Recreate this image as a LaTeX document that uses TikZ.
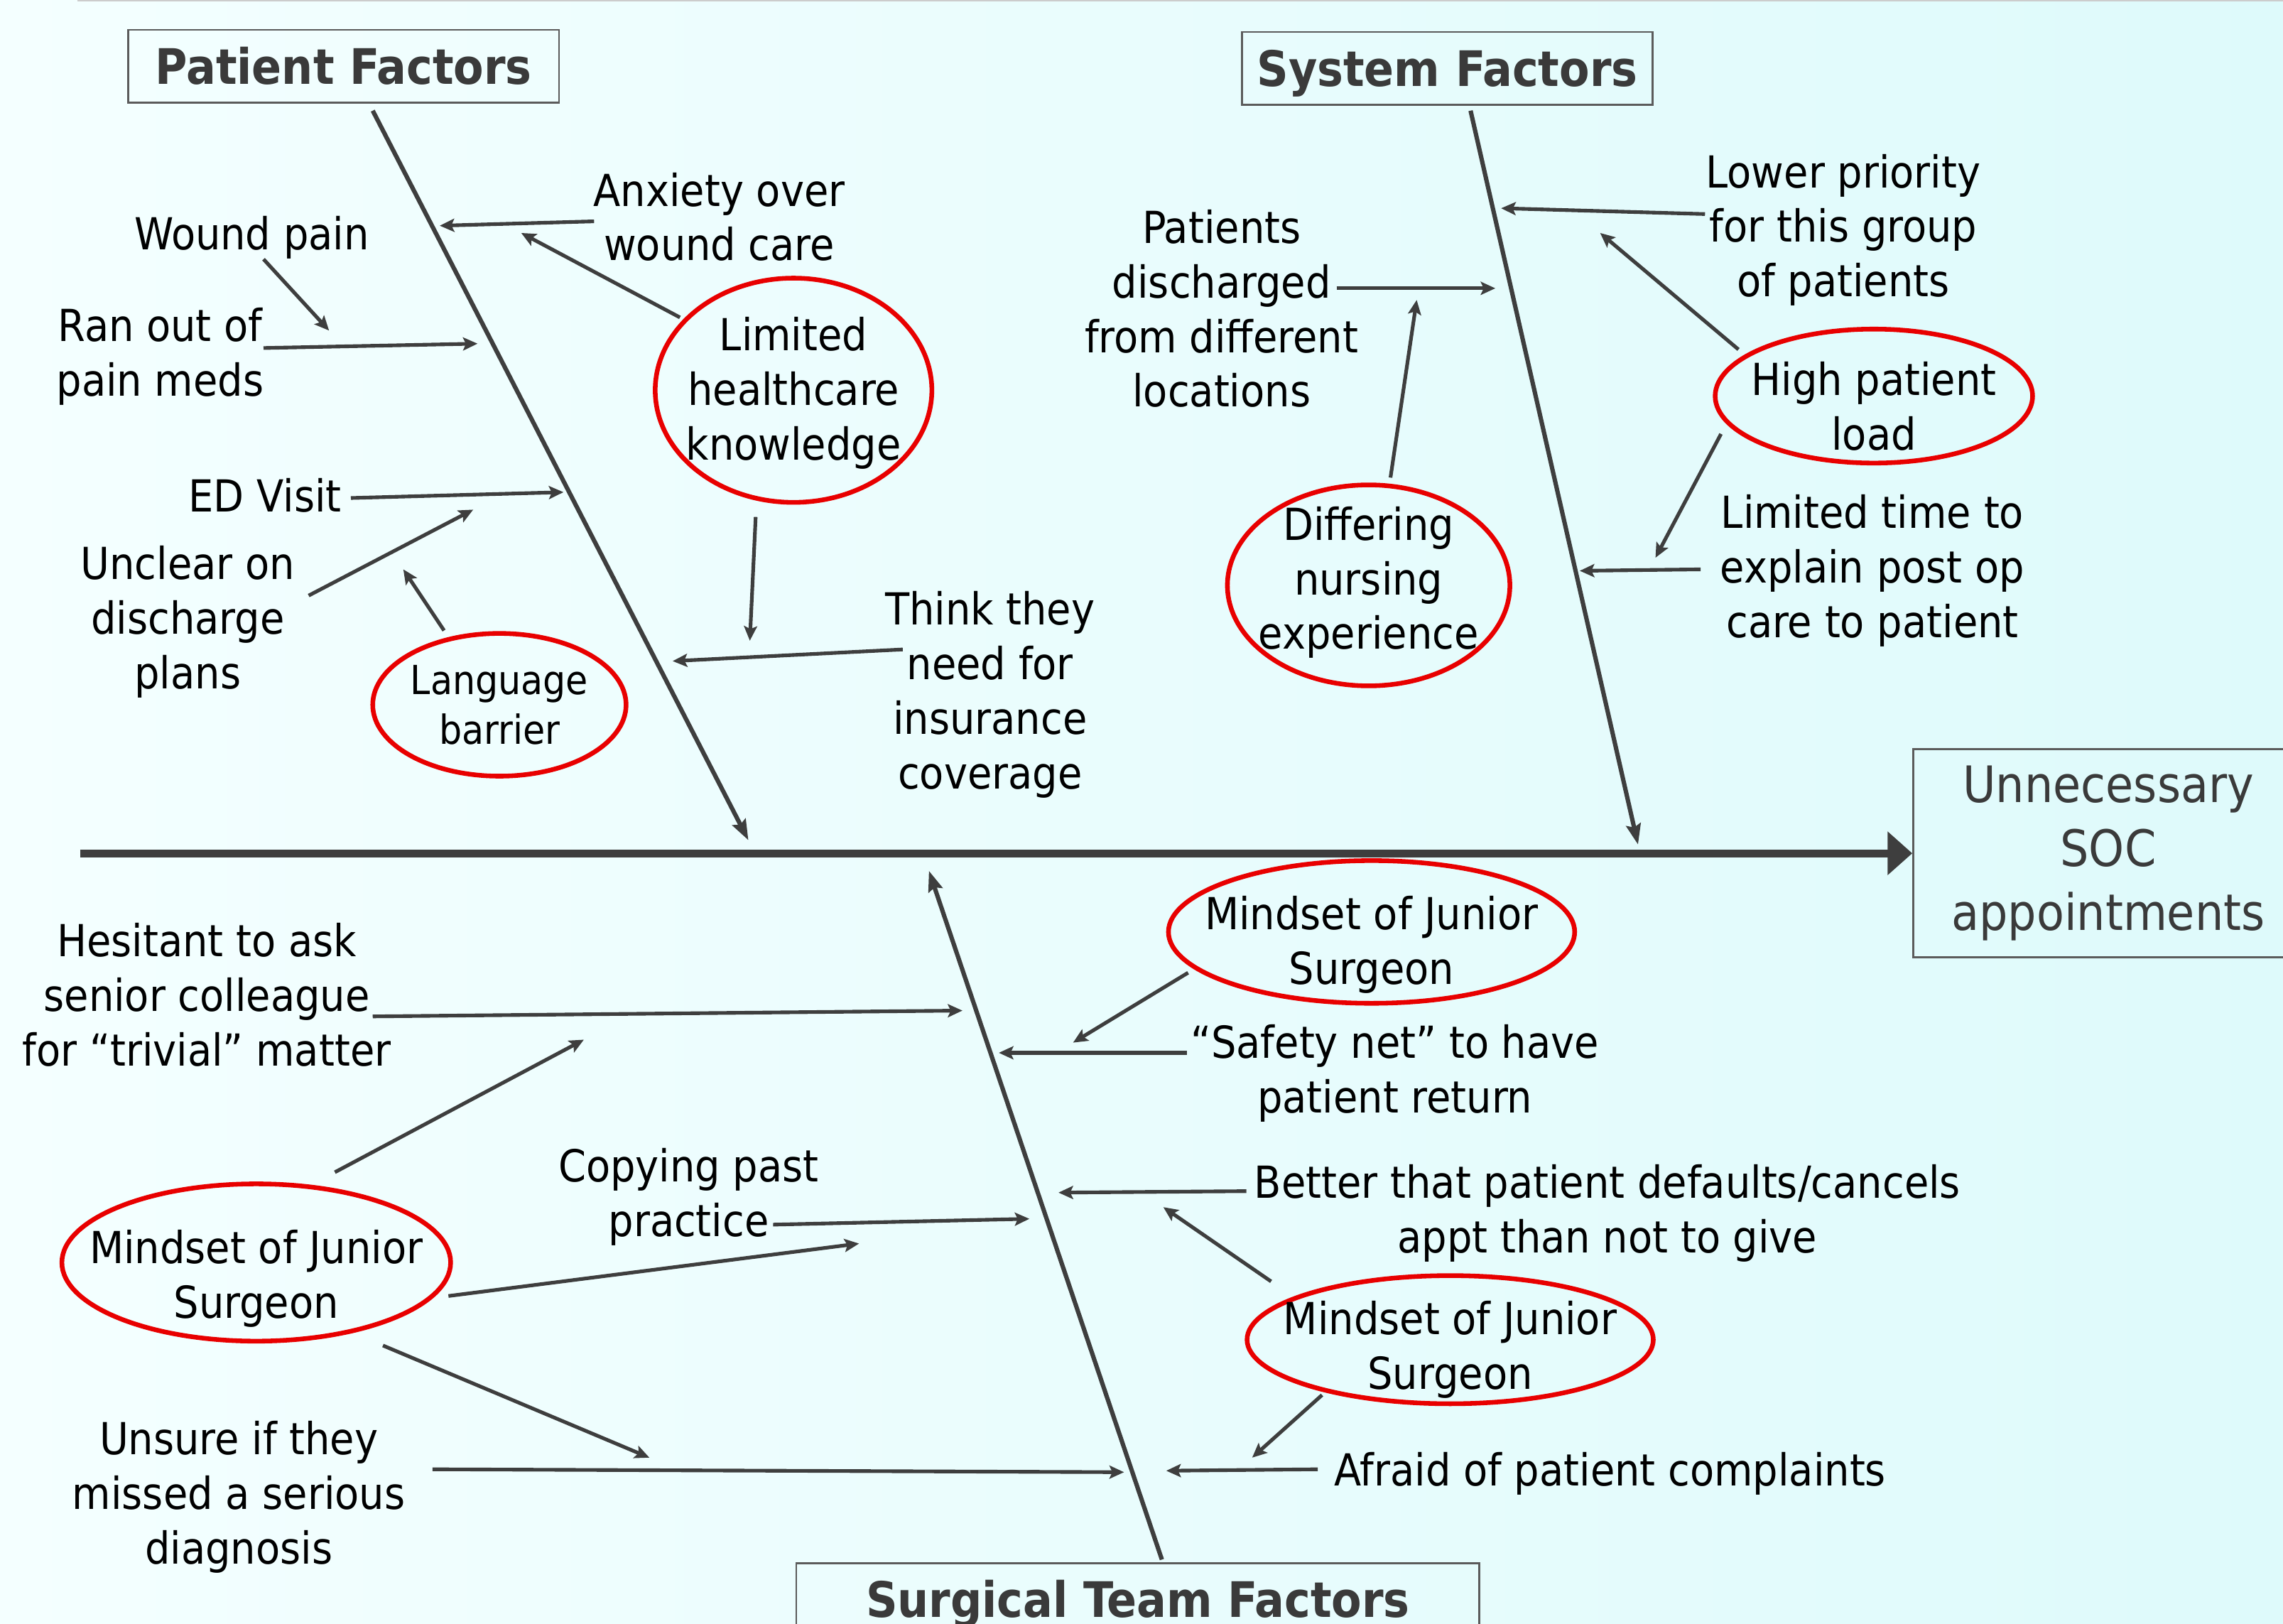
\documentclass[tikz,border=0pt]{standalone}
\usepackage{fontspec}
\setmainfont{DejaVu Sans Condensed}
\usetikzlibrary{arrows.meta,shapes.geometric}
\definecolor{lineC}{RGB}{62,62,62}
\definecolor{ringC}{RGB}{232,0,0}
\definecolor{bgL}{RGB}{244,255,255}
\definecolor{bgR}{RGB}{222,250,251}
\definecolor{titleC}{RGB}{58,58,58}
\begin{document}
\begin{tikzpicture}[x=1pt,y=-1pt,
  lbl/.style={font=\fontsize{30.3}{37.5}\selectfont, align=center, inner sep=0pt},
  small/.style={font=\fontsize{27.5}{34}\selectfont, align=center, inner sep=0pt},
  ttl/.style={draw=lineC!85, line width=1.2pt, font=\fontsize{33.6}{38}\selectfont\bfseries, text=titleC, inner sep=0pt, text height=24.5pt, text depth=0pt},
  ring/.style={ellipse, draw=ringC, line width=3.2pt, inner sep=0pt},
  arr/.style={draw=lineC, line width=2.5pt, -{Stealth[length=10pt,width=9pt,inset=2pt]}},
  bone/.style={draw=lineC, line width=3pt, -{Stealth[length=14pt,width=10pt,inset=2pt]}},
]
% background
\useasboundingbox (0,0) rectangle (1568,1115);
\fill[left color=bgL, right color=bgR] (0,0) rectangle (1568,1115);
\draw[line width=1.2pt, black!20] (53,0.6) -- (1568,0.6);

% ---------- titles ----------
\node[ttl, minimum width=296pt, minimum height=50pt] (pf) at (236,45.5) {Patient Factors};
\node[ttl, minimum width=282pt, minimum height=50pt] (sf) at (994,47) {System Factors};
\node[ttl, minimum width=469pt, minimum height=50pt] (stf) at (781.5,1098.5) {Surgical Team Factors};
\node[draw=lineC!85, line width=1.2pt, minimum width=268pt, minimum height=143pt, inner sep=0pt,
      font=\fontsize{34.5}{44}\selectfont, text=titleC, align=center] (soc) at (1448,586) {Unnecessary\\SOC\\appointments};

% ---------- spine ----------
\coordinate (spineS) at (55,586);
\draw[lineC, line width=5.5pt, -{Triangle[length=17pt,width=29pt]}] (spineS) -- (spineS -| soc.west);

% ---------- bones ----------
\coordinate (b1s) at (256,76);   \coordinate (b1e) at (514,577);
\coordinate (b2s) at (1010,76);  \coordinate (b2e) at (1125,580);
\coordinate (b3s) at (798,1071); \coordinate (b3e) at (638,598);
\draw[bone] (b1s) -- (b1e);
\draw[bone] (b2s) -- (b2e);
\draw[bone] (b3s) -- (b3e);

% ---------- patient factors ----------
\node[lbl] (anx) at (494,149) {Anxiety over\\wound care};
\node[lbl] (wp) at (173,163) {Wound pain};
\node[lbl] (rano) at (110,245) {Ran out of\\pain meds};
\node[lbl] (ed) at (182,340) {ED Visit};
\node[lbl] (unc) at (129,427) {Unclear on\\discharge\\plans};
\node[lbl] (think) at (680,477) {Think they\\need for\\insurance\\coverage};
\node[ring, minimum width=190pt, minimum height=154pt,
      label={[lbl, yshift=-2pt]center:{Limited\\healthcare\\knowledge}}] (lhk) at (545,268) {};
\node[ring, minimum width=174pt, minimum height=98pt,
      label={[small]center:{Language\\barrier}}] (lang) at (343,484) {};

\coordinate (anxS) at (408,152);  \coordinate (anxE) at (302,155);
\coordinate (lhkS1) at (467,218); \coordinate (lhkE1) at (358,160);
\coordinate (wpS) at (181,178);   \coordinate (wpE) at (226,227);
\coordinate (ranS) at (181,239);  \coordinate (ranE) at (328,236);
\coordinate (lhkS2) at (519,355); \coordinate (lhkE2) at (515,440);
\coordinate (edS) at (241,342);   \coordinate (edE) at (387,338);
\coordinate (uncS) at (212,409);  \coordinate (uncE) at (325,350);
\coordinate (langS) at (305,433); \coordinate (langE) at (277,391);
\coordinate (thS) at (620,446);   \coordinate (thE) at (462,454);
\draw[arr] (anxS) -- (anxE);
\draw[arr] (lhkS1) -- (lhkE1);
\draw[arr] (wpS) -- (wpE);
\draw[arr] (ranS) -- (ranE);
\draw[arr] (lhkS2) -- (lhkE2);
\draw[arr] (edS) -- (edE);
\draw[arr] (uncS) -- (uncE);
\draw[arr] (langS) -- (langE);
\draw[arr] (thS) -- (thE);

% ---------- system factors ----------
\node[lbl] (lowp) at (1266,158) {Lower priority\\for this group\\of patients};
\node[lbl] (pdis) at (839,212) {Patients\\discharged\\from different\\locations};
\node[lbl] (ltime) at (1286,392) {Limited time to\\explain post op\\care to patient};
\node[ring, minimum width=218pt, minimum height=92pt,
      label={[lbl, yshift=-7pt]center:{High patient\\load}}] (hpl) at (1287,272) {};
\node[ring, minimum width=194pt, minimum height=138pt,
      label={[lbl, yshift=2pt]center:{Differing\\nursing\\experience}}] (dne) at (940,402) {};

\coordinate (lpS) at (1171,147);  \coordinate (lpE) at (1031,143);
\coordinate (hpS1) at (1194,240); \coordinate (hpE1) at (1099,160);
\coordinate (hpS2) at (1182,298); \coordinate (hpE2) at (1137,383);
\coordinate (ltS) at (1168,391);  \coordinate (ltE) at (1085,392);
\coordinate (pdS) at (918,198);   \coordinate (pdE) at (1027,198);
\coordinate (dnS) at (955,328);   \coordinate (dnE) at (973,206);
\draw[arr] (lpS) -- (lpE);
\draw[arr] (hpS1) -- (hpE1);
\draw[arr] (hpS2) -- (hpE2);
\draw[arr] (ltS) -- (ltE);
\draw[arr] (pdS) -- (pdE);
\draw[arr] (dnS) -- (dnE);

% ---------- surgical team factors ----------
\node[lbl] (hes) at (142,683) {Hesitant to ask\\senior colleague\\for “trivial” matter};
\node[lbl] (copy) at (473,822) {Copying past\\practice};
\node[lbl] (unsure) at (164,1028) {Unsure if they\\missed a serious\\diagnosis};
\node[lbl] (safe) at (958,737) {“Safety net” to have\\patient return};
\node[lbl] (better) at (1104,833) {Better that patient defaults/cancels\\appt than not to give};
\node[lbl] (afraid) at (1106,1012) {Afraid of patient complaints};
\node[ring, minimum width=267pt, minimum height=108pt,
      label={[lbl, yshift=-11pt]center:{Mindset of Junior\\Surgeon}}] (mjl) at (176,867) {};
\node[ring, minimum width=279pt, minimum height=98pt,
      label={[lbl, yshift=-9pt]center:{Mindset of Junior\\Surgeon}}] (mjt) at (942,640) {};
\node[ring, minimum width=279pt, minimum height=88pt,
      label={[lbl, yshift=-7pt]center:{Mindset of Junior\\Surgeon}}] (mjb) at (996,920) {};

\coordinate (hesS) at (256,698);  \coordinate (hesE) at (661,694);
\coordinate (mlS1) at (230,805);  \coordinate (mlE1) at (401,714);
\coordinate (mlS2) at (308,890);  \coordinate (mlE2) at (590,854);
\coordinate (mlS3) at (263,924);  \coordinate (mlE3) at (446,1001);
\coordinate (cpS) at (531,841);   \coordinate (cpE) at (707,837);
\coordinate (unS) at (297,1009);  \coordinate (unE) at (772,1011);
\coordinate (mtS) at (816,668);   \coordinate (mtE) at (737,716);
\coordinate (sfS) at (815,723);   \coordinate (sfE) at (686,723);
\coordinate (btS) at (856,818);   \coordinate (btE) at (727,819);
\coordinate (mbS1) at (873,880);  \coordinate (mbE1) at (799,829);
\coordinate (afS) at (905,1009);  \coordinate (afE) at (801,1010);
\coordinate (mbS2) at (908,958);  \coordinate (mbE2) at (860,1001);
\draw[arr] (hesS) -- (hesE);
\draw[arr] (mlS1) -- (mlE1);
\draw[arr] (mlS2) -- (mlE2);
\draw[arr] (mlS3) -- (mlE3);
\draw[arr] (cpS) -- (cpE);
\draw[arr] (unS) -- (unE);
\draw[arr] (mtS) -- (mtE);
\draw[arr] (sfS) -- (sfE);
\draw[arr] (btS) -- (btE);
\draw[arr] (mbS1) -- (mbE1);
\draw[arr] (afS) -- (afE);
\draw[arr] (mbS2) -- (mbE2);
\end{tikzpicture}
\end{document}
